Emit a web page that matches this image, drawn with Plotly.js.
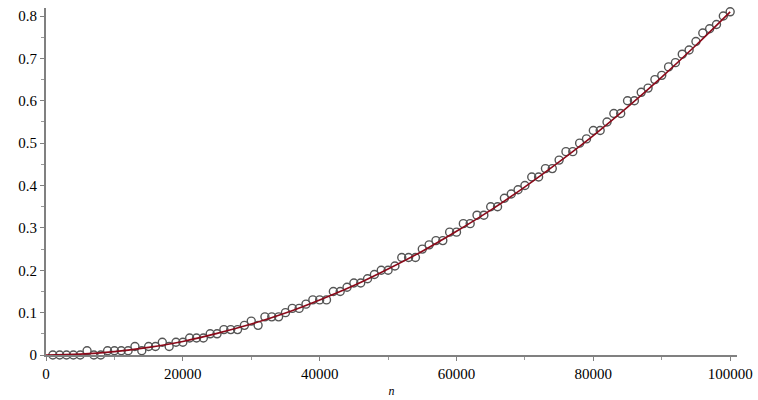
<!DOCTYPE html>
<html>
<head>
<meta charset="utf-8">
<script src="https://cdn.plot.ly/plotly-3.0.1.min.js"></script>
<style>html,body{margin:0;padding:0;background:#fff;}#chart{width:758px;height:400px;}</style>
</head>
<body>
<div id="chart"></div>
<script>
// Measured points: n and time
const nValues = [
  1000,2000,3000,4000,5000,6000,7000,8000,9000,10000,
  11000,12000,13000,14000,15000,16000,17000,18000,19000,20000,
  21000,22000,23000,24000,25000,26000,27000,28000,29000,30000,
  31000,32000,33000,34000,35000,36000,37000,38000,39000,40000,
  41000,42000,43000,44000,45000,46000,47000,48000,49000,50000,
  51000,52000,53000,54000,55000,56000,57000,58000,59000,60000,
  61000,62000,63000,64000,65000,66000,67000,68000,69000,70000,
  71000,72000,73000,74000,75000,76000,77000,78000,79000,80000,
  81000,82000,83000,84000,85000,86000,87000,88000,89000,90000,
  91000,92000,93000,94000,95000,96000,97000,98000,99000,100000
];
const timeValues = [
  0,0,0,0,0,0.01,0,0,0.01,0.01,
  0.01,0.01,0.02,0.01,0.02,0.02,0.03,0.02,0.03,0.03,
  0.04,0.04,0.04,0.05,0.05,0.06,0.06,0.06,0.07,0.08,
  0.07,0.09,0.09,0.09,0.10,0.11,0.11,0.12,0.13,0.13,
  0.13,0.15,0.15,0.16,0.17,0.17,0.18,0.19,0.20,0.20,
  0.21,0.23,0.23,0.23,0.25,0.26,0.27,0.27,0.29,0.29,
  0.31,0.31,0.33,0.33,0.35,0.35,0.37,0.38,0.39,0.40,
  0.42,0.42,0.44,0.44,0.46,0.48,0.48,0.50,0.51,0.53,
  0.53,0.55,0.57,0.57,0.60,0.60,0.62,0.63,0.65,0.66,
  0.68,0.69,0.71,0.72,0.74,0.76,0.77,0.78,0.80,0.81
];
const fitN = [0,5000,10000,15000,20000,25000,30000,35000,40000,45000,50000,
              55000,60000,65000,70000,75000,80000,85000,90000,95000,100000];
const fitT = [0,0.002,0.008,0.018,0.032,0.051,0.073,0.099,0.130,0.164,0.203,
              0.245,0.292,0.342,0.397,0.456,0.518,0.585,0.656,0.731,0.810];
const xTicks = [0,20000,40000,60000,80000,100000];
const yTicks = [0,0.1,0.2,0.3,0.4,0.5,0.6,0.7,0.8];
const yTickText = ['0','0.1','0.2','0.3','0.4','0.5','0.6','0.7','0.8'];

const traces = [
  {x: nValues, y: timeValues, type: 'scatter', mode: 'markers',
   marker: {symbol: 'circle-open', size: 8, color: '#555555', line: {width: 1.4, color: '#555555'}},
   hoverinfo: 'skip', cliponaxis: false},
  {x: fitN, y: fitT, type: 'scatter', mode: 'lines',
   line: {color: '#8b0a1a', width: 1.6, shape: 'spline', smoothing: 1},
   hoverinfo: 'skip', cliponaxis: false}
];
const serifFamily = '"Liberation Serif", "Times New Roman", Times, serif';
const axisFont = {family: serifFamily, size: 15, color: '#000'};
const layout = {
  width: 758, height: 400,
  margin: {l: 46, r: 21, t: 8, b: 45},
  paper_bgcolor: '#fff', plot_bgcolor: '#fff',
  showlegend: false,
  font: {family: serifFamily, size: 15, color: '#000'},
  xaxis: {
    range: [0, 101000], showgrid: false, zeroline: false,
    showline: true, linecolor: '#808080', linewidth: 2,
    tickmode: 'array', tickvals: xTicks, tickformat: 'd',
    ticks: 'outside', ticklen: 4, tickcolor: '#808080', tickwidth: 1,
    minor: {dtick: 10000, tick0: 0, ticks: 'outside', ticklen: 3, tickcolor: '#999999', showgrid: false},
    tickfont: axisFont,
    title: {text: '<i>n</i>', font: {family: serifFamily, size: 12, color: '#000'}, standoff: 6}
  },
  yaxis: {
    range: [0, 0.819], showgrid: false, zeroline: false,
    showline: true, linecolor: '#808080', linewidth: 2,
    tickmode: 'array', tickvals: yTicks, ticktext: yTickText,
    ticks: 'outside', ticklen: 4, tickcolor: '#808080', tickwidth: 1,
    minor: {dtick: 0.05, tick0: 0, ticks: 'outside', ticklen: 3, tickcolor: '#999999', showgrid: false},
    tickfont: axisFont
  }
};
Plotly.newPlot('chart', traces, layout, {staticPlot: true, displayModeBar: false}).then(function () {
  document.querySelectorAll('#chart text').forEach(function (t) {
    t.style.fontFamily = '"Liberation Serif", serif';
  });
});
</script>
</body>
</html>
